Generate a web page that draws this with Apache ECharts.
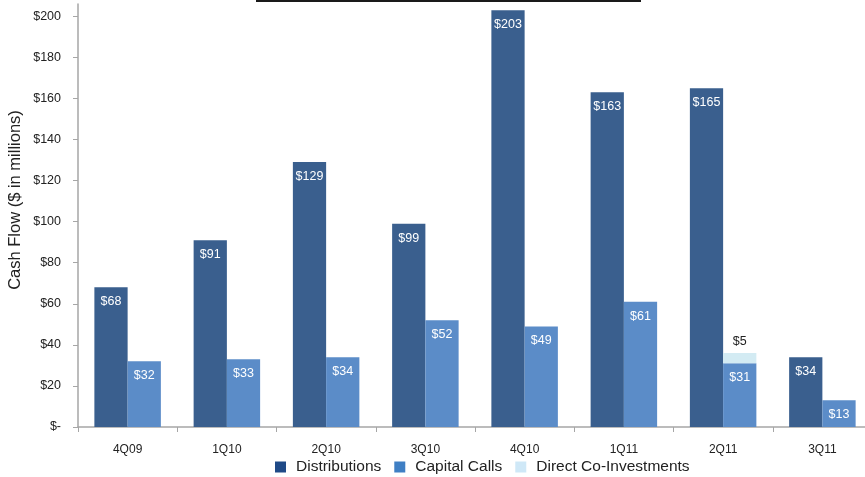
<!DOCTYPE html>
<html><head><meta charset="utf-8">
<script src="https://cdn.jsdelivr.net/npm/echarts@6/dist/echarts.min.js"></script>
<style>html,body{margin:0;padding:0;background:#fff}#c{width:865px;height:477px}</style>
</head><body><div id="c"></div>
<script>
const categories = ['4Q09','1Q10','2Q10','3Q10','4Q10','1Q11','2Q11','3Q11'];
const distributions = [68, 91, 129, 99, 203, 163, 165, 34];
const capitalCalls = [32, 33, 34, 52, 49, 61, 31, 13];
const directCoInvestments = [null, null, null, null, null, null, 5, null];
const yTicks = [0, 20, 40, 60, 80, 100, 120, 140, 160, 180, 200];
const yTitle = 'Cash Flow ($ in millions)';

const FONT = '"Liberation Sans", Arial, sans-serif';
const chart = echarts.init(document.getElementById('c'), null, {renderer: 'canvas'});
const fmt = v => (v == null ? '' : '$' + v);
chart.setOption({
  animation: false,
  textStyle: {fontFamily: FONT},
  graphic: [
    {type: 'rect', shape: {x: 256, y: 0, width: 385, height: 2}, style: {fill: '#1a1a1a'}},
    {type: 'text', x: 15, y: 200, rotation: Math.PI / 2,
     style: {text: yTitle, font: '16.5px ' + FONT, fill: '#222', align: 'center', verticalAlign: 'middle'}}
  ],
  grid: {left: 78, top: 4, width: 794, bottom: 50, containLabel: false, outerBoundsMode: 'none'},
  legend: {
    top: 454, left: 270, icon: 'rect', itemWidth: 11, itemHeight: 11, itemGap: 13,
    textStyle: {fontSize: 15.5, color: '#222', fontFamily: FONT, padding: [0, 0, 0, 5]},
    data: [
      {name: 'Distributions', itemStyle: {color: '#1f4a87'}},
      {name: 'Capital Calls', itemStyle: {color: '#3f7fc4'}},
      {name: 'Direct Co-Investments', itemStyle: {color: '#cfe8f7'}}
    ]
  },
  xAxis: {
    type: 'category', data: categories,
    axisLine: {lineStyle: {color: '#a6a6a6', width: 1.5}},
    axisTick: {show: true, length: 5, lineStyle: {color: '#a6a6a6'}},
    axisLabel: {fontSize: 12, color: '#222', margin: 17, fontFamily: FONT}
  },
  yAxis: {
    type: 'value', min: 0, max: 206, interval: 20,
    splitLine: {show: false},
    axisLine: {show: true, lineStyle: {color: '#a6a6a6', width: 1.5}},
    axisTick: {show: true, length: 5, customValues: yTicks, lineStyle: {color: '#a6a6a6'}},
    axisLabel: {
      fontSize: 12.5, color: '#222', margin: 17, fontFamily: FONT, customValues: yTicks,
      formatter: v => (v % 20 !== 0 ? '' : (v === 0 ? '$-' : '$' + v))
    }
  },
  series: [
    {
      name: 'Distributions', type: 'bar', data: distributions,
      barCategoryGap: '33%', barGap: '0%',
      itemStyle: {color: '#3a5f8e'},
      label: {show: true, position: 'insideTop', distance: 8, color: '#fff', fontSize: 12.5, fontFamily: FONT, formatter: p => fmt(p.value)}
    },
    {
      name: 'Capital Calls', type: 'bar', stack: 'cc', data: capitalCalls,
      barCategoryGap: '33%', barGap: '0%',
      itemStyle: {color: '#5b8cc8'},
      label: {show: true, position: 'insideTop', distance: 8, color: '#fff', fontSize: 12.5, fontFamily: FONT, formatter: p => fmt(p.value)}
    },
    {
      name: 'Direct Co-Investments', type: 'bar', stack: 'cc', data: directCoInvestments,
      barCategoryGap: '33%', barGap: '0%',
      itemStyle: {color: '#d3ebf3'},
      label: {show: true, position: 'top', distance: 5, color: '#222', fontSize: 12.5, fontFamily: FONT, formatter: p => fmt(p.value)}
    }
  ]
});
</script></body></html>
